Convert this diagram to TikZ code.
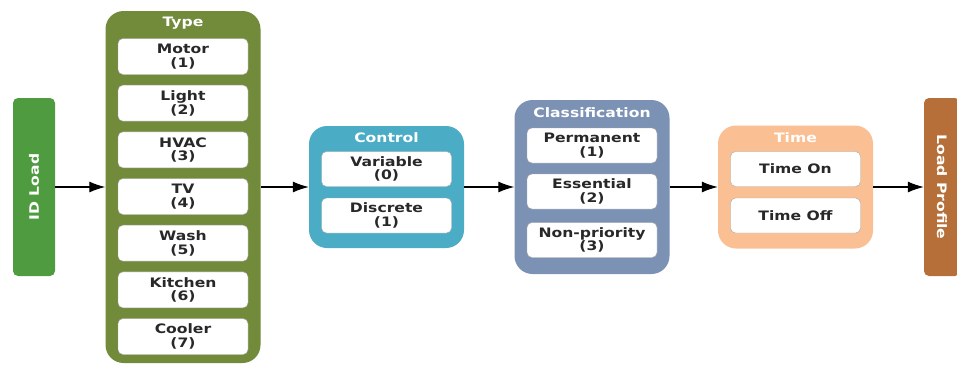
\documentclass[tikz,border=0pt]{standalone}
\usepackage{fontspec}
\setmainfont{DejaVu Sans}[FakeStretch=1.2]
\usetikzlibrary{arrows.meta}

\definecolor{idgreen}{RGB}{78,155,64}
\definecolor{typegreen}{RGB}{114,139,58}
\definecolor{ctrlblue}{RGB}{75,172,198}
\definecolor{classblue}{RGB}{124,146,180}
\definecolor{timepeach}{RGB}{250,192,148}
\definecolor{profbrown}{RGB}{182,111,56}
\definecolor{entrytext}{RGB}{40,40,40}

\tikzset{
  panel/.style={rounded corners=18pt, minimum width=155pt, inner sep=0pt},
  paneltitle/.style={text=white, font=\bfseries\fontsize{13}{13.5}\selectfont},
  entry/.style={draw=gray!70, fill=white, rounded corners=5pt, minimum width=130pt,
    minimum height=36pt, inner sep=0pt, align=center, text=entrytext,
    font=\bfseries\fontsize{13}{13.5}\selectfont},
  endbox/.style={rounded corners=5pt, minimum width=178pt, minimum height=42pt,
    inner sep=0pt, text=white, font=\bfseries\fontsize{13}{13.5}\selectfont},
  flow/.style={-{Latex[length=16pt,width=11pt]}, line width=1.1pt}
}

\begin{document}
\begin{tikzpicture}[x=1pt, y=-1pt]
  \useasboundingbox (0,0) rectangle (957,365);
  \clip (0,0) rectangle (957,365);

  % input
  \node[endbox, fill=idgreen, rotate=90] (idload) at (34,187) {ID Load};

  % type
  \node[panel, fill=typegreen, minimum height=352pt] (type) at (183,187) {};
  \node[paneltitle] (typetitle) at (183,23) {Type};
  \foreach \name/\num [count=\i] in {Motor/1, Light/2, HVAC/3, TV/4, Wash/5, Kitchen/6, Cooler/7}
    \node[entry] (type\i) at (183,{56.5+46.67*(\i-1)}) {\name\\(\num)};

  % control
  \node[panel, fill=ctrlblue, minimum height=122pt] (ctrl) at (386.5,187) {};
  \node[paneltitle] (ctrltitle) at (386.5,138) {Control};
  \node[entry, minimum height=35pt] (ctrl1) at (386.5,169) {Variable\\(0)};
  \node[entry, minimum height=35pt] (ctrl2) at (386.5,215.5) {Discrete\\(1)};

  % classification
  \node[panel, fill=classblue, minimum height=174pt] (class) at (592,187) {};
  \node[paneltitle] (classtitle) at (592,113) {Classification};
  \node[entry, minimum height=35pt] (class1) at (592,145.5) {Permanent\\(1)};
  \node[entry, minimum height=35pt] (class2) at (592,191.5) {Essential\\(2)};
  \node[entry, minimum height=35pt] (class3) at (592,240) {Non-priority\\(3)};

  % time
  \node[panel, fill=timepeach, minimum height=123pt] (time) at (795.5,187) {};
  \node[paneltitle] (timetitle) at (795.5,138) {Time};
  \node[entry, minimum height=35pt] (time1) at (795.5,169) {Time On};
  \node[entry, minimum height=35pt] (time2) at (795.5,215.5) {Time Off};

  % output
  \node[endbox, fill=profbrown, minimum height=36pt, rotate=-90] (profile) at (942,187) {Load Profile};

  \draw[flow] (idload) -- (type);
  \draw[flow] (type) -- (ctrl);
  \draw[flow] (ctrl) -- (class);
  \draw[flow] (class) -- (time);
  \draw[flow] (time) -- (profile);
\end{tikzpicture}
\end{document}
